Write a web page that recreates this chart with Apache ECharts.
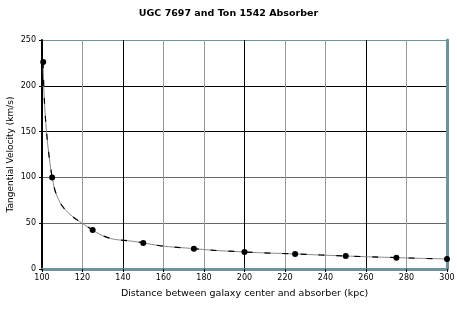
<!DOCTYPE html>
<html>
<head>
<meta charset="utf-8">
<script src="https://cdn.jsdelivr.net/npm/echarts@6/dist/echarts.min.js"></script>
<style>
  html, body { margin: 0; padding: 0; background: #fff; }
  #chart { width: 457px; height: 309px; }
</style>
</head>
<body>
<div id="chart"></div>
<script>
// data
var distance = [100.6, 105, 125, 150, 175, 200, 225, 250, 275, 300];
var velocity = [226, 100, 42.5, 28.5, 22.2, 18.6, 16.4, 14.2, 12.4, 10.9];
var xTicks = [100, 120, 140, 160, 180, 200, 220, 240, 260, 280, 300];
var yTicks = [0, 50, 100, 150, 200, 250];

var points = distance.map(function (d, i) { return [d, velocity[i]]; });
var font = 'DejaVu Sans';
var teal = '#6e939a';

var myEcharts = echarts.init(document.getElementById('chart'));
myEcharts.setOption({
  backgroundColor: '#fff',
  animation: false,
  title: {
    text: 'UGC 7697 and Ton 1542 Absorber',
    left: 'center',
    top: 4,
    textStyle: { fontFamily: font, fontSize: 9.5, fontWeight: 'bold', color: '#000' }
  },
  grid: { left: 42, right: 10, top: 40, bottom: 40, containLabel: false, outerBoundsMode: 'none' },
  xAxis: [{
    type: 'value',
    min: xTicks[0], max: xTicks[xTicks.length - 1], interval: 20,
    name: 'Distance between galaxy center and absorber (kpc)',
    nameLocation: 'middle', nameGap: 20, nameMoveOverlap: false,
    nameTextStyle: { fontFamily: font, fontSize: 9.5, color: '#000' },
    axisLine: { lineStyle: { color: teal, width: 2 } },
    axisTick: { show: true, length: 3, lineStyle: { color: '#000' } },
    axisLabel: { fontFamily: font, fontSize: 8, color: '#000', margin: 5 },
    splitLine: { show: true, lineStyle: { color: ['#999', '#999', '#000'], width: 1 } }
  }, {
    type: 'value', position: 'top',
    min: xTicks[0], max: xTicks[xTicks.length - 1],
    axisLine: { show: true, lineStyle: { color: teal, width: 3 } },
    axisTick: { show: false }, axisLabel: { show: false }, splitLine: { show: false }
  }],
  yAxis: [{
    type: 'value',
    min: yTicks[0], max: yTicks[yTicks.length - 1], interval: 50,
    name: 'Tangential Velocity (km/s)',
    nameLocation: 'middle', nameGap: 27, nameMoveOverlap: false,
    nameTextStyle: { fontFamily: font, fontSize: 9, color: '#000' },
    axisLine: { show: true, lineStyle: { color: '#000', width: 2 } },
    axisTick: { show: true, length: 3, lineStyle: { color: '#000' } },
    axisLabel: { fontFamily: font, fontSize: 8, color: '#000', margin: 6 },
    splitLine: { show: true, lineStyle: { color: ['#666', '#666', '#666', '#000', '#000', teal], width: 1 } }
  }, {
    type: 'value', position: 'right',
    min: yTicks[0], max: yTicks[yTicks.length - 1],
    axisLine: { show: true, lineStyle: { color: teal, width: 3 } },
    axisTick: { show: false }, axisLabel: { show: false }, splitLine: { show: false }
  }],
  series: [{
    type: 'line',
    data: points,
    smooth: 0.5,
    symbol: 'none',
    lineStyle: { color: '#888', width: 1 },
    z: 3
  }, {
    type: 'line',
    data: points,
    smooth: 0.5,
    symbol: 'circle',
    symbolSize: 6,
    itemStyle: { color: '#000' },
    lineStyle: { color: '#000', width: 1.2, type: [6, 12] },
    z: 4
  }]
});
</script>
</body>
</html>
